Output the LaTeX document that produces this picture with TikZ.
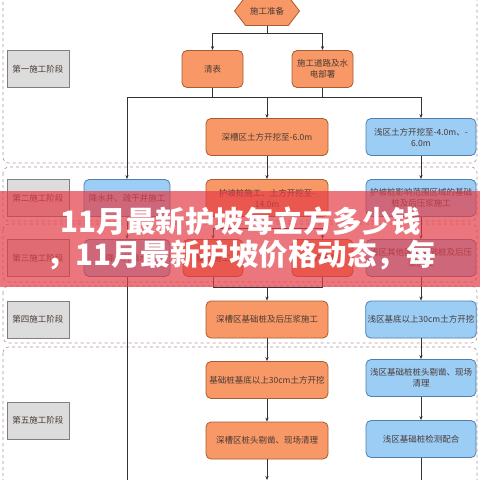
\documentclass[tikz,border=0pt]{standalone}
\usepackage{fontspec}
\setmainfont{Noto Sans CJK SC}
\usetikzlibrary{arrows.meta, shapes.symbols}
\definecolor{boxorange}{HTML}{F79866}
\definecolor{edgeorange}{HTML}{A85A30}
\definecolor{boxblue}{HTML}{9BCDF5}
\definecolor{edgeblue}{HTML}{4F7FAF}
\definecolor{boxgray}{HTML}{DCDCDC}
\definecolor{edgegray}{HTML}{7F7F7F}
\definecolor{bandline}{HTML}{B09494}
\definecolor{inktext}{HTML}{4A3A35}
\definecolor{wire}{HTML}{333333}
\definecolor{bannerred}{HTML}{E43C46}

\begin{document}
\begin{tikzpicture}[x=1pt, y=-1pt,
    every node/.style={font=\fontsize{8.5}{11}\selectfont, text=inktext},
    task/.style={draw=edge#1, fill=box#1, rounded corners=5pt, line width=0.8pt,
                 minimum height=37pt, align=center, inner sep=2pt},
    stagebox/.style={draw=edgegray, fill=boxgray, line width=0.8pt,
                     minimum width=62pt, minimum height=37pt},
    band/.style={draw=bandline, dashed, rounded corners=6pt, line width=0.6pt},
    >={Stealth[length=4pt, width=3.2pt]},
    flow/.style={draw=wire, line width=0.6pt},
  ]
  \clip (0,0) rectangle (480,480);

  \draw[band] (3,-10) rectangle (477,163);
  \draw[band] (3,167) rectangle (477,221);
  \draw[band] (3,224) rectangle (477,282);
  \draw[band] (3,286) rectangle (477,343);
  \draw[band] (3,347) rectangle (477,495);

  \node[stagebox] (st1) at (38,69)    {第一施工阶段};
  \node[stagebox] (st2) at (38,198)   {第二施工阶段};
  \node[stagebox] (st3) at (38,258)   {第三施工阶段};
  \node[stagebox] (st4) at (38,319.5) {第四施工阶段};
  \node[stagebox] (st5) at (38,420.5) {第五施工阶段};

  \node[signal, signal to=west and east, signal pointer angle=105,
        draw=edgeorange, fill=boxorange, line width=0.8pt,
        minimum width=65pt, minimum height=29pt] (prep) at (267,11) {施工准备};

  \node[task=orange, minimum width=61pt] (clear) at (212.5,69) {清表};
  \node[task=orange, minimum width=61pt] (road)  at (322.5,69) {施工道路及水\\电部署};

  \node[task=blue, minimum width=86pt]    (well1) at (127,198) {降水井、疏干井施工};
  \node[task=blue, minimum width=86pt]    (well2) at (127,258) {降水井降水};

  \node[task=orange, minimum width=122pt] (deep1) at (267,137)   {深槽区土方开挖至-6.0m};
  \node[task=orange, minimum width=122pt] (deep2) at (267,198)   {护坡桩施工、土方开挖至-\\14.0m};
  \node[task=orange, minimum width=60pt]  (deep3a) at (213,258)  {锚索施工};
  \node[task=orange, minimum width=61pt]  (deep3b) at (322.5,258) {土方开挖};
  \node[task=orange, minimum width=122pt] (deep4) at (267,319.5) {深槽区基础桩及后压浆施工};
  \node[task=orange, minimum width=122pt] (deep5) at (267,380)   {基础桩基底以上30cm土方开挖};
  \node[task=orange, minimum width=122pt] (deep6) at (267,440.5) {深槽区桩头剔凿、现场清理};

  \node[task=blue, minimum width=110pt] (shal1) at (421,137)   {浅区土方开挖至-4.0m、-\\6.0m};
  \node[task=blue, minimum width=110pt] (shal2) at (421,198)   {护坡桩影响范围区域的基础\\桩及后压浆施工};
  \node[task=blue, minimum width=110pt] (shal3) at (421,258)   {浅区其他区域基础桩及后压\\浆施工};
  \node[task=blue, minimum width=110pt] (shal4) at (421,319.5) {浅区基底以上30cm土方开挖};
  \node[task=blue, minimum width=110pt] (shal5) at (421,378)   {浅区基础桩桩头剔凿、现场\\清理};
  \node[task=blue, minimum width=110pt] (shal6) at (421,439)   {浅区基础桩检测配合};

  \coordinate (sp0) at (267,33);
  \coordinate (sp1) at (267,97);
  \coordinate (sp2) at (267,228);
  \coordinate (sp3) at (267,287);
  \coordinate (end1) at (127,490);
  \coordinate (end2) at (267,480);
  \coordinate (end3) at (421,490);

  \draw[flow] (prep.south) -- (sp0);
  \draw[flow, ->] (sp0) -| (clear.north);
  \draw[flow, ->] (sp0) -| (road.north);
  \draw[flow] (clear.south) |- (sp1);
  \draw[flow] (road.south) |- (sp1);
  \draw[flow, ->] (sp1) -| (well1.north);
  \draw[flow, ->] (sp1) -- (deep1.north);
  \draw[flow, ->] (sp1) -| (shal1.north);

  \draw[flow, ->] (well1) -- (well2);
  \draw[flow] (well2) -- (end1);

  \draw[flow, ->] (deep1) -- (deep2);
  \draw[flow] (deep2.south) -- (sp2);
  \draw[flow, ->] (sp2) -| (deep3a.north);
  \draw[flow, ->] (sp2) -| (deep3b.north);
  \draw[flow] (deep3a.south) |- (sp3);
  \draw[flow] (deep3b.south) |- (sp3);
  \draw[flow, ->] (sp3) -- (deep4.north);
  \draw[flow, ->] (deep4) -- (deep5);
  \draw[flow, ->] (deep5) -- (deep6);
  \draw[flow, ->] (deep6) -- (end2);

  \draw[flow, ->] (shal1) -- (shal2);
  \draw[flow, ->] (shal2) -- (shal3);
  \draw[flow, ->] (shal3) -- (shal4);
  \draw[flow, ->] (shal4) -- (shal5);
  \draw[flow, ->] (shal5) -- (shal6);
  \draw[flow] (shal6) -- (end3);

  \fill[bannerred, opacity=0.7] (0,191) rectangle (480,287);
  \node[font=\fontsize{29.5}{33}\selectfont\bfseries, text=white, align=center]
    (title) at (241,238.5) {11月最新护坡每立方多少钱\\，11月最新护坡价格动态，每};
\end{tikzpicture}
\end{document}
